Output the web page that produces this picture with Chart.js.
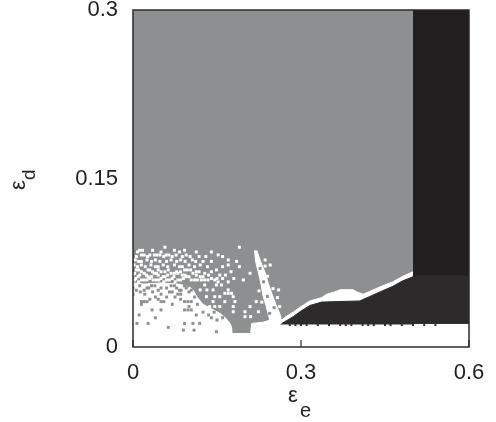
<!DOCTYPE html>
<html>
<head>
<meta charset="utf-8">
<script src="https://cdn.jsdelivr.net/npm/chart.js@4/dist/chart.umd.min.js"></script>
<style>
html,body{margin:0;padding:0;background:#fff;}
#wrap{width:496px;height:422px;}
</style>
</head>
<body>
<div id="wrap"><canvas id="c" width="496" height="422"></canvas></div>
<script>
// ---- tick values / labels ----
const xTicks = [0, 0.3, 0.6];
const xTickLabels = ['0', '0.3', '0.6'];
const yTicks = [0, 0.15, 0.3];
const yTickLabels = ['0', '0.15', '0.3'];

// ---- regions of the phase diagram (x = eps_e, y = eps_d) ----
const grayRegion = [[0,0],[0.6,0],[0.6,0.3],[0,0.3]];
const whiteRegion = [[0,0],[0,0.057],[0.02,0.056],[0.05,0.057],[0.08,0.056],[0.1,0.054],[0.108,0.05],[0.115,0.044],[0.125,0.038],[0.14,0.034],[0.155,0.03],[0.165,0.026],[0.172,0.022],[0.176,0.018],[0.177,0.012],[0.21,0.012],[0.212,0.021],[0.232,0.022],[0.245,0.024],[0.262,0.022],[0.27,0.026],[0.286,0.031],[0.3,0.036],[0.316,0.041],[0.337,0.044],[0.346,0.047],[0.36,0.049],[0.37,0.051],[0.393,0.051],[0.4,0.049],[0.411,0.047],[0.423,0.0495],[0.441,0.0535],[0.464,0.058],[0.482,0.063],[0.5,0.067],[0.6,0.067],[0.6,0]];
const whiteStreak = [[0.217,0.086],[0.219,0.076],[0.224,0.066],[0.229,0.055],[0.232,0.046],[0.238,0.036],[0.242,0.028],[0.245,0.022],[0.266,0.022],[0.262,0.03],[0.255,0.038],[0.249,0.046],[0.242,0.056],[0.236,0.066],[0.228,0.076],[0.221,0.086]];
const darkWedge = [[0.264,0.02],[0.266,0.021],[0.286,0.027],[0.3,0.032],[0.316,0.037],[0.337,0.04],[0.405,0.041],[0.423,0.045],[0.441,0.049],[0.464,0.054],[0.482,0.059],[0.5,0.0625],[0.5,0.02]];
const darkUpper = [[0.5,0.064],[0.6,0.064],[0.6,0.3],[0.5,0.3]];
const darkLower = [[0.5,0.021],[0.6,0.021],[0.6,0.064],[0.5,0.064]];

// ---- speckled cells in the transition zone ----
const whiteCells = [
 [0.057,0.0888],[0.19,0.0888],
 [0.008,0.0846],[0.05,0.0846],[0.083,0.0846],[0.113,0.0846],[0.14,0.0846],
 [0.012,0.0861],[0.017,0.0861],[0.035,0.0861],[0.074,0.0861],[0.092,0.0861],
 [0.015,0.0819],[0.02,0.0819],[0.03,0.0819],[0.038,0.0819],[0.043,0.0819],[0.048,0.0819],[0.059,0.0819],[0.064,0.0819],[0.077,0.0819],[0.095,0.0819],[0.152,0.082],
 [0.006,0.0805],[0.026,0.0805],[0.055,0.0805],[0.07,0.0805],[0.088,0.0805],[0.102,0.0805],[0.118,0.0805],[0.13,0.0805],[0.16,0.0805],
 [0.004,0.0775],[0.025,0.0775],[0.04,0.0775],[0.068,0.0775],[0.085,0.0775],[0.106,0.0775],[0.17,0.0775],[0.236,0.0775],
 [0.01,0.0762],[0.015,0.0762],[0.033,0.0762],[0.048,0.0762],[0.06,0.0762],[0.078,0.0762],[0.093,0.0762],[0.112,0.0762],[0.125,0.0762],[0.14,0.0762],[0.185,0.0762],
 [0.002,0.073],[0.015,0.073],[0.032,0.073],[0.054,0.073],[0.074,0.073],[0.1,0.073],[0.12,0.073],[0.17,0.073],[0.245,0.073],[0.236,0.072],
 [0.008,0.0715],[0.022,0.0715],[0.04,0.0715],[0.045,0.0715],[0.062,0.0715],[0.083,0.0715],[0.088,0.0715],[0.11,0.0715],[0.133,0.0715],[0.16,0.0715],[0.19,0.0715],
 [0.006,0.0686],[0.01,0.0686],[0.027,0.0686],[0.03,0.0686],[0.045,0.0686],[0.063,0.0686],[0.092,0.0686],[0.097,0.0686],[0.103,0.0686],[0.149,0.0686],
 [0.015,0.067],[0.035,0.067],[0.05,0.067],[0.057,0.067],[0.078,0.067],[0.085,0.067],[0.113,0.067],[0.118,0.067],[0.14,0.067],[0.175,0.067],
 [0.003,0.0656],[0.02,0.0656],[0.038,0.0656],[0.042,0.0656],[0.068,0.0656],[0.074,0.0656],[0.08,0.0656],[0.107,0.0656],[0.128,0.0656],[0.209,0.0656],
 [0.0,0.064],[0.012,0.064],[0.024,0.064],[0.045,0.064],[0.062,0.064],[0.088,0.064],[0.093,0.064],[0.113,0.064],[0.135,0.064],[0.155,0.064],[0.165,0.064],[0.24,0.063],
 [0.009,0.0626],[0.027,0.0626],[0.033,0.0626],[0.054,0.0626],[0.057,0.0626],[0.073,0.0626],[0.095,0.0626],[0.1,0.0626],[0.12,0.0626],[0.125,0.0626],
 [0.005,0.061],[0.03,0.061],[0.05,0.061],[0.07,0.061],[0.09,0.061],[0.14,0.061],[0.15,0.061],[0.16,0.061],[0.18,0.061],
 [0.003,0.0597],[0.015,0.0597],[0.02,0.0597],[0.025,0.0597],[0.036,0.0597],[0.041,0.0597],[0.046,0.0597],[0.06,0.0597],[0.065,0.0597],[0.08,0.0597],[0.085,0.0597],[0.104,0.0597],[0.11,0.0597],[0.115,0.0597],[0.122,0.0597],[0.128,0.0597],[0.134,0.0597],[0.146,0.0597],[0.197,0.0597],
 [0.01,0.058],[0.055,0.058],[0.075,0.058],[0.152,0.058],[0.17,0.058],
 [0.128,0.0552],[0.149,0.0552],[0.158,0.0552],
 [0.12,0.0508],[0.132,0.0508],[0.143,0.0508],[0.17,0.0508],[0.26,0.0508],[0.25,0.052],[0.225,0.05],
 [0.164,0.0478],[0.17,0.0478],[0.176,0.0478],
 [0.131,0.0448],[0.146,0.0448],[0.155,0.0448],[0.179,0.0448],[0.258,0.044],
 [0.143,0.0404],[0.164,0.0404],[0.182,0.0404],[0.22,0.0404],[0.23,0.04],
 [0.126,0.036],[0.137,0.036],[0.146,0.036],[0.155,0.036],[0.179,0.036],[0.209,0.036],[0.262,0.036],
 [0.179,0.0314],[0.2,0.0314],[0.224,0.0314],
 [0.2,0.027],[0.21,0.027]
];
const grayCells = [
 [0.012,0.0545],[0.033,0.0545],[0.039,0.0545],[0.068,0.0545],[0.074,0.0545],[0.092,0.0545],[0.098,0.0545],
 [0.0,0.0525],[0.025,0.0525],[0.028,0.0525],[0.05,0.0525],[0.06,0.0525],[0.078,0.0525],[0.095,0.0525],[0.11,0.0525],
 [0.006,0.0505],[0.02,0.0505],[0.045,0.0505],[0.083,0.0505],[0.086,0.0505],[0.104,0.0505],
 [0.013,0.049],[0.035,0.049],[0.065,0.049],[0.07,0.049],[0.1,0.049],
 [0.0,0.047],[0.021,0.047],[0.05,0.047],[0.08,0.047],[0.085,0.047],
 [0.04,0.0445],[0.06,0.0445],[0.075,0.0445],[0.11,0.0445],
 [0.03,0.0425],[0.045,0.0425],[0.085,0.0425],[0.13,0.0425],[0.14,0.0425],
 [0.015,0.0404],[0.02,0.0404],[0.025,0.0404],[0.05,0.0404],[0.055,0.0404],[0.092,0.0404],[0.098,0.0404],[0.104,0.0404],
 [0.015,0.038],[0.07,0.038],[0.115,0.038],[0.15,0.038],[0.16,0.038],
 [0.1,0.036],
 [0.034,0.033],[0.05,0.033],[0.092,0.033],[0.098,0.033],[0.104,0.033],
 [0.125,0.031],[0.145,0.031],[0.16,0.031],[0.165,0.031],
 [0.011,0.0285],[0.113,0.0285],[0.135,0.0285],
 [0.04,0.026],[0.14,0.026],[0.16,0.026],
 [0.007,0.021],[0.027,0.021],[0.092,0.021],[0.107,0.021],[0.119,0.021],[0.15,0.024],
 [0.063,0.0175],
 [0.09,0.015],[0.109,0.015],[0.149,0.0136],
 [0.227,0.07],[0.233,0.058],[0.24,0.045],[0.252,0.035],[0.244,0.03]
];
const darkCells = [
 [0.28,0.0195],[0.29,0.0195],[0.3,0.0195],[0.31,0.0195],[0.33,0.0195],[0.35,0.0195],[0.37,0.0195],[0.38,0.0195],[0.39,0.0195],[0.41,0.0195],[0.42,0.0195],[0.43,0.0195],[0.45,0.0195],[0.46,0.0195],[0.48,0.0195],[0.5,0.0195],[0.52,0.0195],[0.54,0.0195]
];

// ---- colours ----
const GRAY = '#8e8f91', WHITE = '#ffffff', DARK1 = '#231f20', DARK2 = '#2c2a2b', INK = '#231f20';

const toXY = a => a.map(([x, y]) => ({x, y}));
function poly(data, color, order) {
  return {data: toXY(data), backgroundColor: color, borderColor: color, borderWidth: 1,
    pointRadius: 0, fill: 'shape', order: order, tension: 0};
}
function cells(data, color, r, order) {
  return {data: toXY(data), showLine: false, pointStyle: 'rect', pointRadius: r,
    pointBackgroundColor: color, pointBorderWidth: 0, backgroundColor: color,
    borderColor: color, fill: false, order: order};
}

const decor = {
  id: 'decor',
  afterDatasetsDraw(chart) {
    const {ctx, chartArea: a, scales} = chart;
    ctx.save();
    ctx.strokeStyle = '#2b2b2b';
    ctx.lineWidth = 1.5;
    ctx.strokeRect(a.left, a.top, a.right - a.left, a.bottom - a.top);
    ctx.lineWidth = 1.2;
    xTicks.forEach(v => {
      const px = scales.x.getPixelForValue(v);
      ctx.beginPath(); ctx.moveTo(px, a.bottom); ctx.lineTo(px, a.bottom - 7); ctx.stroke();
    });
    ctx.restore();
  },
  afterDraw(chart) {
    const {ctx} = chart;
    ctx.save();
    ctx.fillStyle = INK;
    ctx.textAlign = 'left';
    ctx.textBaseline = 'alphabetic';
    ctx.font = '22px "Liberation Sans", Arial, sans-serif';
    ctx.fillText('ε', 288, 402);
    ctx.font = '20px "Liberation Sans", Arial, sans-serif';
    ctx.fillText('e', 300, 417);
    ctx.translate(25, 190);
    ctx.rotate(-Math.PI / 2);
    ctx.font = '22px "Liberation Sans", Arial, sans-serif';
    ctx.fillText('ε', 0, 0);
    ctx.font = '19px "Liberation Sans", Arial, sans-serif';
    ctx.fillText('d', 10, 10);
    ctx.restore();
  }
};

new Chart(document.getElementById('c'), {
  type: 'line',
  data: {
    datasets: [
      poly(grayRegion, GRAY, 20),
      poly(whiteRegion, WHITE, 19),
      poly(whiteStreak, WHITE, 18),
      poly(darkWedge, DARK2, 17),
      poly(darkUpper, DARK1, 16),
      poly(darkLower, DARK2, 16),
      cells(whiteCells, WHITE, 2.1, 10),
      cells(grayCells, GRAY, 2.1, 10),
      cells(darkCells, DARK2, 1.4, 10)
    ]
  },
  options: {
    responsive: false,
    animation: false,
    events: [],
    layout: {padding: {top: 10, right: 27, bottom: 0, left: 0}},
    plugins: {legend: {display: false}, tooltip: {enabled: false}},
    scales: {
      x: {
        type: 'linear', min: 0, max: 0.6,
        grid: {display: false, drawTicks: false},
        border: {display: false},
        afterBuildTicks: s => { s.ticks = xTicks.map(v => ({value: v})); },
        afterFit: s => { s.height = 75; s.paddingLeft = 0; s.paddingRight = 0; },
        ticks: {
          padding: 13, maxRotation: 0, autoSkip: false, color: INK,
          font: {family: '"Liberation Sans", Arial, sans-serif', size: 22},
          callback: (v) => xTickLabels[xTicks.indexOf(v)]
        }
      },
      y: {
        type: 'linear', min: 0, max: 0.3,
        grid: {display: false, drawTicks: false},
        border: {display: false},
        afterBuildTicks: s => { s.ticks = yTicks.map(v => ({value: v})); },
        afterFit: s => { s.width = 133; s.paddingTop = 0; s.paddingBottom = 0; },
        ticks: {
          padding: 15, autoSkip: false, color: INK,
          font: {family: '"Liberation Sans", Arial, sans-serif', size: 22},
          callback: (v) => yTickLabels[yTicks.indexOf(v)]
        }
      }
    }
  },
  plugins: [decor]
});
</script>
</body>
</html>
